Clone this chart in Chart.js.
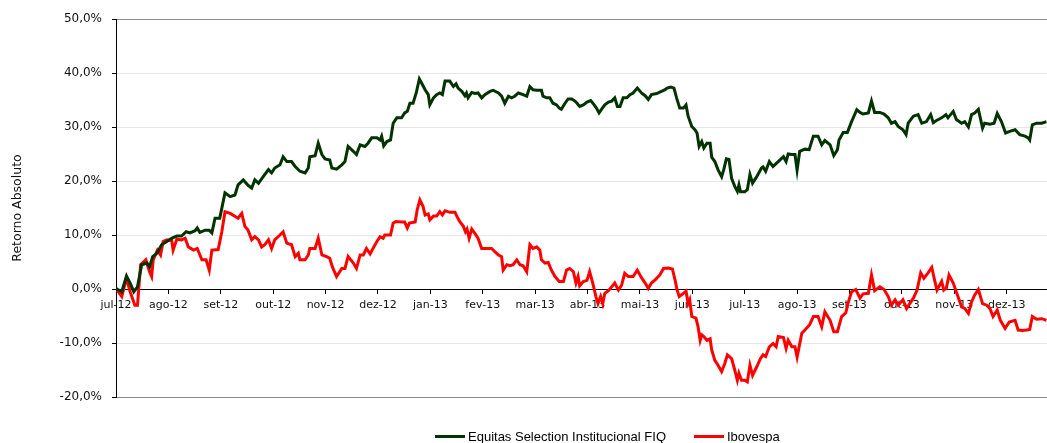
<!DOCTYPE html>
<html>
<head>
<meta charset="utf-8">
<script src="https://cdn.jsdelivr.net/npm/chart.js@4/dist/chart.umd.min.js"></script>
<style>
  html, body { margin: 0; padding: 0; background: #fff; overflow: hidden; }
  #wrap { position: relative; width: 1047px; height: 443px; }
  #legend { position: absolute; left: 435px; top: 428px; height: 16px; display: flex; align-items: center;
    font-family: "Liberation Sans", Arial, sans-serif; font-size: 13px; color: #000; white-space: nowrap; }
  .item { display: flex; align-items: center; }
  .swatch { display: inline-block; width: 30px; height: 3px; margin-right: 3px; }
</style>
</head>
<body>
<div id="wrap">
  <canvas id="chart"></canvas>
  <div id="legend"></div>
</div>
<script>
// months since jul-12 (tick i = first day of month i)
const monthLabels = ['jul-12', 'ago-12', 'set-12', 'out-12', 'nov-12', 'dez-12', 'jan-13', 'fev-13', 'mar-13',
  'abr-13', 'mai-13', 'jun-13', 'jul-13', 'ago-13', 'set-13', 'out-13', 'nov-13', 'dez-13'];
const seriesNames = ['Equitas Selection Institucional FIQ', 'Ibovespa'];
const seriesColors = ['#003300', '#ff0000'];

// Equitas Selection Institucional FIQ
const fundX = [0.00, 0.11, 0.20, 0.27, 0.34, 0.41, 0.49, 0.59, 0.64, 0.70, 0.78, 0.87, 0.97, 1.06, 1.16, 1.25, 1.34, 1.41,
  1.51, 1.55, 1.60, 1.70, 1.78, 1.83, 1.89, 1.98, 2.08, 2.18, 2.27, 2.33, 2.43, 2.52, 2.59, 2.65, 2.72, 2.81, 2.91, 2.97,
  3.03, 3.13, 3.19, 3.26, 3.35, 3.42, 3.51, 3.61, 3.67, 3.70, 3.80, 3.86, 3.93, 3.99, 4.08, 4.12, 4.21, 4.31, 4.37, 4.43,
  4.53, 4.59, 4.66, 4.75, 4.81, 4.88, 4.98, 5.04, 5.07, 5.11, 5.17, 5.24, 5.29, 5.36, 5.45, 5.51, 5.56, 5.61, 5.67, 5.73,
  5.79, 5.83, 5.90, 5.96, 5.99, 6.06, 6.12, 6.18, 6.23, 6.28, 6.37, 6.44, 6.49, 6.53, 6.60, 6.66, 6.69, 6.72, 6.79, 6.85,
  6.91, 6.98, 7.04, 7.14, 7.20, 7.30, 7.36, 7.42, 7.49, 7.55, 7.61, 7.68, 7.77, 7.84, 7.90, 7.96, 8.03, 8.12, 8.15, 8.22,
  8.28, 8.34, 8.41, 8.46, 8.50, 8.57, 8.63, 8.70, 8.76, 8.80, 8.85, 8.92, 8.99, 9.06, 9.12, 9.17, 9.22, 9.27, 9.33, 9.40,
  9.46, 9.52, 9.57, 9.62, 9.68, 9.75, 9.81, 9.87, 9.95, 10.03, 10.10, 10.16, 10.22, 10.32, 10.41, 10.48, 10.52, 10.59,
  10.65, 10.70, 10.76, 10.83, 10.88, 10.92, 10.99, 11.05, 11.09, 11.13, 11.18, 11.22, 11.28, 11.34, 11.37, 11.43, 11.49,
  11.56, 11.60, 11.65, 11.70, 11.75, 11.81, 11.86, 11.89, 11.92, 12.00, 12.05, 12.10, 12.15, 12.23, 12.32, 12.35, 12.40,
  12.47, 12.54, 12.64, 12.74, 12.79, 12.83, 12.90, 12.96, 13.00, 13.05, 13.15, 13.23, 13.31, 13.40, 13.47, 13.53, 13.63,
  13.70, 13.77, 13.80, 13.88, 13.96, 14.04, 14.14, 14.20, 14.26, 14.36, 14.42, 14.48, 14.58, 14.66, 14.74, 14.80, 14.87,
  14.93, 15.02, 15.08, 15.12, 15.22, 15.31, 15.38, 15.47, 15.55, 15.60, 15.66, 15.76, 15.84, 15.88, 15.98, 16.04, 16.14,
  16.20, 16.27, 16.33, 16.39, 16.46, 16.54, 16.58, 16.68, 16.76, 16.82, 16.90, 16.98, 17.06, 17.16, 17.25, 17.35, 17.41,
  17.44, 17.49, 17.57, 17.67, 17.76];
const fundY = [0.1, -0.5, 2.4, 1.1, -0.5, 0.4, 4.5, 4.8, 4.1, 6.0, 6.6, 8.2, 8.8, 9.4, 9.8, 9.8, 10.6, 10.4,
  10.8, 11.3, 10.5, 10.9, 10.9, 10.4, 13.1, 13.1, 17.8, 17.1, 17.4, 19.3, 20.2, 19.2, 18.7, 20.2, 19.6, 20.8, 22.1, 21.5,
  22.4, 23.0, 24.5, 23.6, 23.6, 22.7, 21.8, 21.5, 22.4, 24.5, 24.7, 27.0, 24.9, 24.1, 23.9, 22.4, 22.2, 23.0, 23.6, 26.4,
  25.5, 24.9, 26.7, 26.4, 27.0, 28.0, 28.0, 27.6, 28.3, 26.5, 27.3, 27.6, 30.7, 31.7, 31.7, 32.6, 32.9, 34.4, 34.4, 36.3,
  38.9, 38.2, 36.9, 36.0, 34.1, 35.4, 36.0, 36.3, 36.0, 38.5, 38.5, 37.5, 38.0, 37.2, 36.6, 35.8, 36.3, 35.4, 36.4, 36.2,
  36.3, 35.4, 36.0, 36.6, 36.8, 36.3, 35.7, 34.4, 35.7, 35.4, 35.7, 36.3, 36.0, 35.7, 37.5, 36.9, 36.8, 36.8, 35.7, 35.4,
  35.4, 34.4, 34.1, 33.5, 33.3, 34.4, 35.2, 35.2, 34.8, 34.4, 33.8, 34.1, 34.6, 34.9, 34.2, 33.5, 32.6, 33.3, 34.1, 34.6,
  34.8, 35.4, 33.8, 33.8, 35.4, 35.4, 36.0, 36.3, 37.2, 36.3, 35.8, 35.1, 36.0, 36.2, 36.6, 36.9, 37.2, 37.4,
  37.2, 35.4, 33.5, 33.5, 34.1, 32.0, 30.1, 29.5, 28.9, 26.4, 27.3, 26.1, 27.0, 27.0, 24.4, 23.6, 22.1,
  20.8, 22.1, 24.1, 24.0, 20.5, 19.0, 18.1, 19.3, 18.0, 18.0, 18.4, 21.2, 19.6, 20.8, 22.4, 22.6, 21.8,
  23.6, 22.7, 23.6, 24.5, 23.6, 25.0, 24.9, 24.9, 22.0, 25.5, 25.9, 25.8, 28.3, 28.3, 26.7, 27.5, 26.7,
  24.7, 25.8, 27.6, 29.0, 29.0, 31.0, 33.2, 32.7, 32.4, 32.6, 34.8, 32.7, 32.7, 32.4, 31.7, 30.7, 31.0,
  30.1, 29.5, 28.6, 30.7, 32.0, 32.3, 30.7, 31.0, 32.3, 30.8, 31.2, 31.7, 32.3, 31.7, 32.9, 31.4, 30.7,
  31.0, 30.0, 32.3, 32.6, 33.3, 29.8, 30.7, 30.5, 30.7, 32.5, 31.0, 28.9, 29.2, 29.5, 28.6, 28.3, 28.0,
  27.6, 30.4, 30.7, 30.7, 31.0];

// Ibovespa
const iboxX = [0.00, 0.11, 0.20, 0.27, 0.36, 0.41, 0.47, 0.57, 0.64, 0.68, 0.71, 0.79, 0.85, 0.90, 0.97, 1.02, 1.06, 1.09,
  1.16, 1.25, 1.32, 1.38, 1.48, 1.55, 1.64, 1.72, 1.78, 1.83, 1.95, 2.02, 2.08, 2.18, 2.33, 2.40, 2.46, 2.52, 2.59, 2.65,
  2.72, 2.78, 2.84, 2.91, 2.97, 3.03, 3.13, 3.19, 3.26, 3.35, 3.42, 3.48, 3.51, 3.61, 3.67, 3.70, 3.80, 3.86, 3.93, 4.02,
  4.08, 4.13, 4.21, 4.31, 4.37, 4.43, 4.53, 4.59, 4.66, 4.72, 4.78, 4.85, 4.91, 4.98, 5.04, 5.10, 5.13, 5.24, 5.29, 5.34,
  5.45, 5.51, 5.56, 5.60, 5.71, 5.75, 5.80, 5.86, 5.90, 5.96, 5.99, 6.06, 6.12, 6.18, 6.23, 6.28, 6.37, 6.47, 6.51, 6.56,
  6.63, 6.67, 6.70, 6.74, 6.79, 6.85, 6.91, 6.98, 7.07, 7.17, 7.23, 7.30, 7.36, 7.39, 7.46, 7.52, 7.58, 7.65, 7.71, 7.77,
  7.84, 7.90, 7.96, 8.03, 8.09, 8.12, 8.19, 8.25, 8.31, 8.38, 8.46, 8.54, 8.60, 8.66, 8.73, 8.78, 8.82, 8.85, 8.92, 8.99,
  9.04, 9.10, 9.16, 9.20, 9.25, 9.29, 9.33, 9.40, 9.46, 9.52, 9.59, 9.65, 9.71, 9.78, 9.87, 9.95, 10.03, 10.10, 10.16,
  10.22, 10.29, 10.38, 10.45, 10.54, 10.62, 10.67, 10.71, 10.75, 10.83, 10.88, 10.92, 10.95, 10.99, 11.07, 11.11, 11.15,
  11.18, 11.22, 11.28, 11.34, 11.37, 11.43, 11.49, 11.56, 11.62, 11.67, 11.75, 11.81, 11.86, 11.89, 11.94, 12.00, 12.05,
  12.10, 12.15, 12.23, 12.30, 12.35, 12.40, 12.47, 12.54, 12.60, 12.64, 12.74, 12.79, 12.83, 12.90, 12.96, 13.00, 13.09,
  13.15, 13.24, 13.31, 13.40, 13.47, 13.53, 13.63, 13.70, 13.77, 13.85, 13.93, 13.97, 14.04, 14.12, 14.20, 14.26, 14.36,
  14.42, 14.48, 14.58, 14.66, 14.74, 14.80, 14.87, 14.93, 15.02, 15.09, 15.15, 15.22, 15.29, 15.36, 15.42, 15.50, 15.57,
  15.63, 15.67, 15.76, 15.80, 15.85, 15.90, 15.98, 16.06, 16.14, 16.20, 16.27, 16.33, 16.39, 16.46, 16.54, 16.62, 16.68,
  16.74, 16.82, 16.88, 16.97, 17.05, 17.16, 17.22, 17.30, 17.38, 17.44, 17.49, 17.57, 17.67, 17.76];
const iboxY = [0.1, -1.4, 2.0, -0.5, -3.0, -3.0, 4.5, 5.4, 3.2, 2.3, 5.4, 7.2, 6.3, 8.8, 9.1, 9.0, 9.2, 7.2,
  9.2, 9.1, 9.4, 7.8, 7.2, 7.5, 5.4, 5.4, 3.5, 7.2, 7.3, 10.6, 14.3, 14.0, 13.1, 14.0, 11.6, 10.9, 9.1, 9.7,
  9.1, 7.8, 8.2, 9.1, 7.5, 9.1, 10.0, 10.6, 8.5, 8.2, 6.0, 6.6, 5.4, 5.4, 6.3, 7.5, 7.5, 9.4, 6.3, 6.0,
  5.7, 4.1, 2.3, 3.8, 3.8, 6.0, 4.8, 3.8, 6.3, 6.3, 7.5, 6.5, 7.6, 8.8, 9.7, 9.4, 10.0, 10.0, 12.2, 12.5,
  12.4, 12.4, 11.3, 12.2, 12.4, 14.7, 16.5, 15.3, 13.7, 13.9, 12.8, 13.5, 13.5, 14.3, 13.7, 14.5, 14.2, 14.2, 13.4, 12.5,
  11.6, 10.6, 11.1, 9.4, 11.1, 10.3, 9.4, 7.5, 7.5, 7.5, 6.9, 6.3, 6.0, 3.5, 4.5, 4.3, 4.5, 5.4, 4.5, 4.3,
  3.2, 8.2, 7.5, 7.8, 7.2, 5.4, 4.8, 4.9, 3.5, 2.3, 1.4, 1.4, 3.5, 3.8, 3.2, 1.1, 2.3, 0.6, 1.4, 1.6,
  3.2, 1.1, -1.4, -2.7, -1.4, -2.7, -0.8, -0.3, 0.4, 1.1, -0.2, 0.7, 2.9, 2.3, 2.3, 3.5, 2.1, 1.1, 0.1,
  1.1, 1.7, 2.6, 3.8, 3.9, 3.7, 1.7, -0.2, -1.4, -0.8, -0.4, -2.7, -2.0, -5.1, -5.4, -7.0, -9.5,
  -8.5, -8.8, -9.5, -9.2, -11.3, -13.2, -14.1, -15.3, -13.8, -12.2, -12.9, -15.0, -16.9, -15.6, -16.9, -16.9, -17.2,
  -14.1, -16.0, -14.4, -12.9, -12.2, -12.5, -10.7, -10.1, -10.7, -8.8, -9.0, -11.0, -9.5, -10.7, -10.7, -12.6, -8.2,
  -7.6, -6.6, -5.1, -5.1, -7.0, -4.2, -5.8, -7.9, -7.9, -5.1, -4.4, -2.7, -0.5, -0.1, -1.7, -0.9, -0.8,
  2.6, -0.3, 0.4, -0.1, -1.4, -3.0, -2.0, -3.0, -2.0, -3.6, -2.7, -1.7, -0.2, 3.0, 2.0, 3.0, 4.0,
  1.4, -0.2, 1.4, -0.2, 0.2, 2.6, 1.1, -1.1, -3.3, -3.6, -4.5, -2.4, -1.1, -0.1, -2.7, -3.0, -3.6,
  -5.1, -3.9, -5.8, -7.3, -6.1, -5.8, -7.6, -7.7, -7.6, -7.5, -5.1, -5.6, -5.5, -5.8];

const yMin = -20;
const yMax = 50;
const xMax = 17.77;

function toPoints(xs, ys) {
  return xs.map((x, i) => ({ x: x, y: ys[i] }));
}

function fmtPct(v) {
  return v.toFixed(1).replace('.', ',') + '%';
}

const ctx = document.getElementById('chart').getContext('2d');
const chart = new Chart(ctx, {
  type: 'line',
  data: {
    datasets: [
      { label: seriesNames[0], data: toPoints(fundX, fundY), borderColor: seriesColors[0], borderWidth: 3,
        pointRadius: 0, tension: 0, fill: false },
      { label: seriesNames[1], data: toPoints(iboxX, iboxY), borderColor: seriesColors[1], borderWidth: 3,
        pointRadius: 0, tension: 0, fill: false }
    ]
  },
  options: {
    responsive: true,
    maintainAspectRatio: false,
    animation: false,
    layout: { padding: { top: 19, right: 0, bottom: 46, left: 0 } },
    plugins: { legend: { display: false }, tooltip: { enabled: false } },
    scales: {
      x: {
        type: 'linear',
        position: { y: 0 },
        min: 0,
        max: xMax,
        afterBuildTicks: (scale) => { scale.ticks = monthLabels.map((_, i) => ({ value: i })); },
        ticks: {
          autoSkip: false,
          maxRotation: 0,
          padding: 6,
          color: '#111',
          font: { family: 'DejaVu Sans', size: 11 },
          callback: (v) => monthLabels[v] || ''
        },
        grid: { drawOnChartArea: false, tickLength: 4, tickColor: '#000' },
        border: { color: '#000', width: 1 }
      },
      y: {
        min: yMin,
        max: yMax,
        afterFit: (scale) => { scale.width = 116; },
        ticks: {
          stepSize: 10,
          padding: 10,
          color: '#111',
          font: { family: 'DejaVu Sans', size: 12 },
          callback: (v) => fmtPct(v)
        },
        grid: {
          tickLength: 4,
          tickColor: '#000',
          color: (c) => (c.tick && (c.tick.value === yMin || c.tick.value === yMax)) ? '#8c8c8c' : '#e6e6e6'
        },
        border: { color: '#000', width: 1 },
        title: {
          display: true,
          text: 'Retorno Absoluto',
          color: '#111',
          font: { family: 'DejaVu Sans', size: 12.5 },
          padding: { top: 10, bottom: 0 }
        }
      }
    }
  }
});

const legend = document.getElementById('legend');
seriesNames.forEach((name, i) => {
  const item = document.createElement('span');
  item.className = 'item';
  if (i > 0) item.style.marginLeft = '28px';
  item.innerHTML = `<span class="swatch" style="background:${seriesColors[i]}"></span>${name}`;
  legend.appendChild(item);
});
</script>
</body>
</html>
